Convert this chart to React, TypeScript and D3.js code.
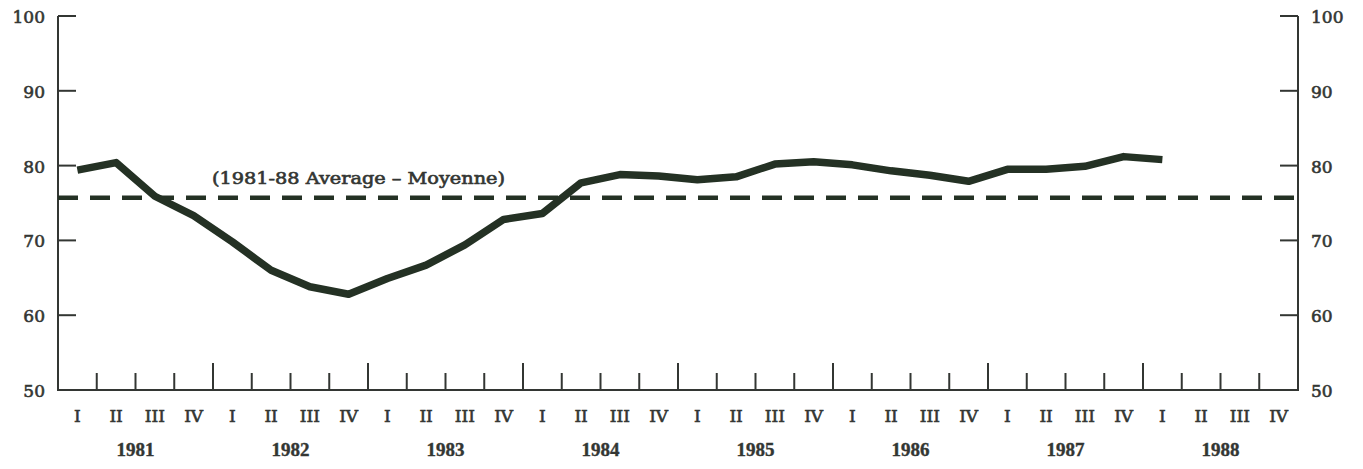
import * as d3 from "d3";
import { useEffect, useRef } from "react";

// quarterly values, 1981 Q1 through 1988 Q1
const quarters = ["I", "II", "III", "IV"];
const years = ["1981", "1982", "1983", "1984", "1985", "1986", "1987", "1988"];
const utilization = [
  79.4, 80.4, 75.9, 73.3, 69.8, 66.0, 63.8, 62.8,
  64.9, 66.7, 69.4, 72.8, 73.6, 77.7, 78.8, 78.6,
  78.1, 78.5, 80.2, 80.5, 80.1, 79.3, 78.7, 77.9,
  79.5, 79.5, 79.9, 81.2, 80.8,
];
const average = 75.7;
const averageLabel = "(1981-88 Average – Moyenne)";
const yTicks = [50, 60, 70, 80, 90, 100];

const App = () => {
  const ref = useRef<SVGSVGElement>(null);

  useEffect(() => {
    const svg = d3.select(ref.current);
    const width = 1363;
    const height = 469;
    const left = 58;
    const right = 1298;
    const top = 16;
    const bottom = 390;
    const ink = "#333633";
    const lineInk = "#243124";
    const serif = "'DejaVu Serif', serif";

    svg.attr("width", width).attr("height", height);

    const nQ = years.length * quarters.length;
    const x = d3.scaleLinear().domain([0, nQ]).range([left, right]);
    const y = d3.scaleLinear().domain([50, 100]).range([bottom, top]);

    const g = svg.append("g");

    // scanned print looks heavier than the plain face, so thicken text a bit
    const label = (tx: number, ty: number, s: string, anchor: string) =>
      g.append("text")
        .attr("x", tx)
        .attr("y", ty)
        .attr("text-anchor", anchor)
        .attr("font-family", serif)
        .attr("font-size", 17)
        .attr("fill", ink)
        .attr("stroke", ink)
        .attr("stroke-width", 0.6)
        .text(s);

    // frame: left, right and bottom axis lines
    g.append("path")
      .attr("d", `M${left},${top}V${bottom}H${right}V${top}`)
      .attr("fill", "none")
      .attr("stroke", ink)
      .attr("stroke-width", 2);

    // y ticks, pointing inward on both sides
    yTicks.slice(1).forEach((t) => {
      g.append("line")
        .attr("x1", left).attr("x2", left + 18)
        .attr("y1", y(t)).attr("y2", y(t))
        .attr("stroke", ink).attr("stroke-width", 2);
      g.append("line")
        .attr("x1", right - 18).attr("x2", right)
        .attr("y1", y(t)).attr("y2", y(t))
        .attr("stroke", ink).attr("stroke-width", 2);
    });

    yTicks.forEach((t) => {
      label(left - 13, y(t) + 7, String(t), "end");
      label(right + 13, y(t) + 7, String(t), "start");
    });

    // quarter ticks on the bottom axis, taller at year boundaries
    d3.range(1, nQ).forEach((i) => {
      const tall = i % quarters.length === 0;
      g.append("line")
        .attr("x1", x(i)).attr("x2", x(i))
        .attr("y1", bottom).attr("y2", bottom - (tall ? 27 : 17))
        .attr("stroke", ink).attr("stroke-width", 2);
    });

    years.forEach((yr, yi) => {
      quarters.forEach((q, qi) => {
        label(x(yi * quarters.length + qi + 0.5), 422, q, "middle");
      });
      g.append("text")
        .attr("x", x(yi * quarters.length + quarters.length / 2))
        .attr("y", 456)
        .attr("text-anchor", "middle")
        .attr("font-family", "'Liberation Serif', serif")
        .attr("font-weight", "bold")
        .attr("font-size", 19)
        .attr("fill", ink)
        .attr("stroke", ink)
        .attr("stroke-width", 0.4)
        .text(yr);
    });

    // average line
    g.append("line")
      .attr("x1", left).attr("x2", right)
      .attr("y1", y(average)).attr("y2", y(average))
      .attr("stroke", lineInk)
      .attr("stroke-width", 4.5)
      .attr("stroke-dasharray", "20 12");

    label(212, 184, averageLabel, "start")
      .attr("font-size", 16)
      .attr("textLength", 293)
      .attr("lengthAdjust", "spacingAndGlyphs");

    const line = d3
      .line<number>()
      .x((_, i) => x(i + 0.5))
      .y((d) => y(d))
      .curve(d3.curveLinear);

    g.append("path")
      .datum(utilization)
      .attr("d", line)
      .attr("fill", "none")
      .attr("stroke", lineInk)
      .attr("stroke-width", 7.5)
      .attr("stroke-linejoin", "round");

    return () => {
      svg.selectAll("*").remove();
    };
  }, []);

  return (
    <svg
      ref={ref}
      style={{ position: "absolute", left: 0, top: 0, background: "#fff" }}
    ></svg>
  );
};

export default App;
